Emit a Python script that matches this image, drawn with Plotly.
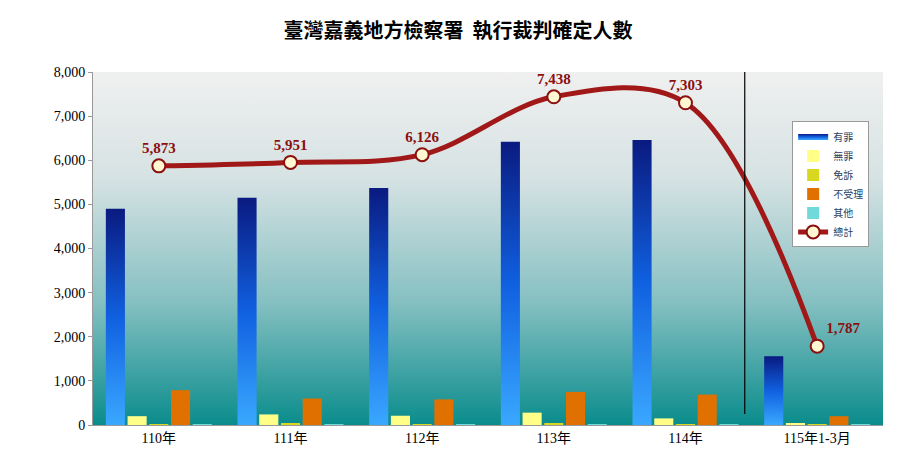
import plotly.graph_objects as go

# 臺灣嘉義地方檢察署 執行裁判確定人數
categories = ["110年", "111年", "112年", "113年", "114年", "115年1-3月"]
guilty = [4900, 5150, 5370, 6420, 6460, 1560]        # 有罪
not_guilty = [200, 240, 210, 280, 150, 45]           # 無罪
dismissed = [20, 30, 20, 40, 20, 10]                 # 免訴
not_accepted = [790, 600, 580, 750, 690, 200]        # 不受理
others = [10, 10, 15, 10, 10, 5]                     # 其他
total = [5873, 5951, 6126, 7438, 7303, 1787]         # 總計

xs = list(range(len(categories)))
bw = 0.165
serif = "Liberation Serif, DejaVu Serif, serif"
cjk = "Noto Sans CJK TC"

fig = go.Figure()

# gradient plot background on the base axes (drawn under the overlay axes)
fig.add_trace(go.Scatter(
    x=[-0.5, 5.5, 5.5, -0.5, -0.5], y=[0, 0, 8000, 8000, 0],
    fill="toself", mode="none", hoverinfo="skip", showlegend=False,
    fillgradient=dict(type="vertical",
                      colorscale=[[0, "#0a8c8c"], [0.35, "#86c0c2"], [0.7, "#d6e2e3"], [1, "#f0f0f0"]])))

# 有罪 bars with vertical gradient
for i, v in enumerate(guilty):
    x0, x1 = xs[i] - 2.5 * bw + 0.01, xs[i] - 1.5 * bw - 0.01
    fig.add_trace(go.Scatter(
        x=[x0, x1, x1, x0, x0], y=[0, 0, v, v, 0], fill="toself", mode="none",
        name="有罪", legendgroup="g", showlegend=(i == 0), xaxis="x2", yaxis="y2",
        fillcolor="#1040b0",
        fillgradient=dict(type="vertical",
                          colorscale=[[0, "#3aa8ff"], [0.5, "#1060e0"], [1, "#0a1a80"]])))

for vals, name, color, k in [(not_guilty, "無罪", "#ffff88", -1),
                             (dismissed, "免訴", "#d8d820", 0),
                             (not_accepted, "不受理", "#e07000", 1),
                             (others, "其他", "#70dada", 2)]:
    fig.add_trace(go.Bar(x=[x + k * bw for x in xs], y=vals, width=bw - 0.02,
                         name=name, marker_color=color, marker_line_width=0,
                         xaxis="x2", yaxis="y2"))

fig.add_trace(go.Scatter(
    x=xs, y=total, name="總計", mode="lines+markers+text", xaxis="x2", yaxis="y2",
    line=dict(color="#a01818", width=5, shape="spline", smoothing=1.0),
    marker=dict(size=13, color="#fff8d0", line=dict(color="#8b1010", width=2)),
    text=[f"{v:,}" for v in total],
    textposition=["top center"] * 5 + ["top right"],
    textfont=dict(family=serif, size=15, color="#8b1010", weight="bold")))

fig.add_shape(type="line", x0=4.45, x1=4.45, y0=250, y1=8150, xref="x2", yref="y2",
              line=dict(color="black", width=1.2))

fig.add_annotation(text="人", x=-0.72, y=8350, xref="x2", yref="y2", showarrow=False,
                   font=dict(family=cjk, size=14, color="black"))

fig.update_layout(
    width=900, height=450,
    margin=dict(l=85, r=25, t=64, b=33),
    title=dict(text="<b>臺灣嘉義地方檢察署  執行裁判確定人數</b>", x=0.5, y=0.965,
               xanchor="center", font=dict(family=cjk, size=20, color="black")),
    paper_bgcolor="white", plot_bgcolor="white",
    barmode="overlay", showlegend=True,
    legend=dict(x=0.885, y=0.86, xanchor="left", yanchor="top", bgcolor="white",
                bordercolor="#999999", borderwidth=1, font=dict(family=cjk, size=10),
                tracegroupgap=0, itemwidth=30),
    xaxis=dict(range=[-0.5, 5.5], visible=False),
    yaxis=dict(range=[0, 8000], visible=False),
    xaxis2=dict(range=[-0.5, 5.5], overlaying="x", side="bottom", tickvals=xs,
                ticktext=categories, showgrid=False,
                tickfont=dict(family=serif + ", " + cjk, size=14, color="black"),
                showline=True, linecolor="#999999", zeroline=False),
    yaxis2=dict(range=[0, 8000], overlaying="y", side="left", dtick=1000, tickformat=",",
                gridcolor="#c0c0c0", tickfont=dict(family=serif, size=14, color="black"),
                showline=True, linecolor="#999999", ticks="outside", ticklen=4,
                tickcolor="#999999", zeroline=False),
)

fig.write_html("out.html")
